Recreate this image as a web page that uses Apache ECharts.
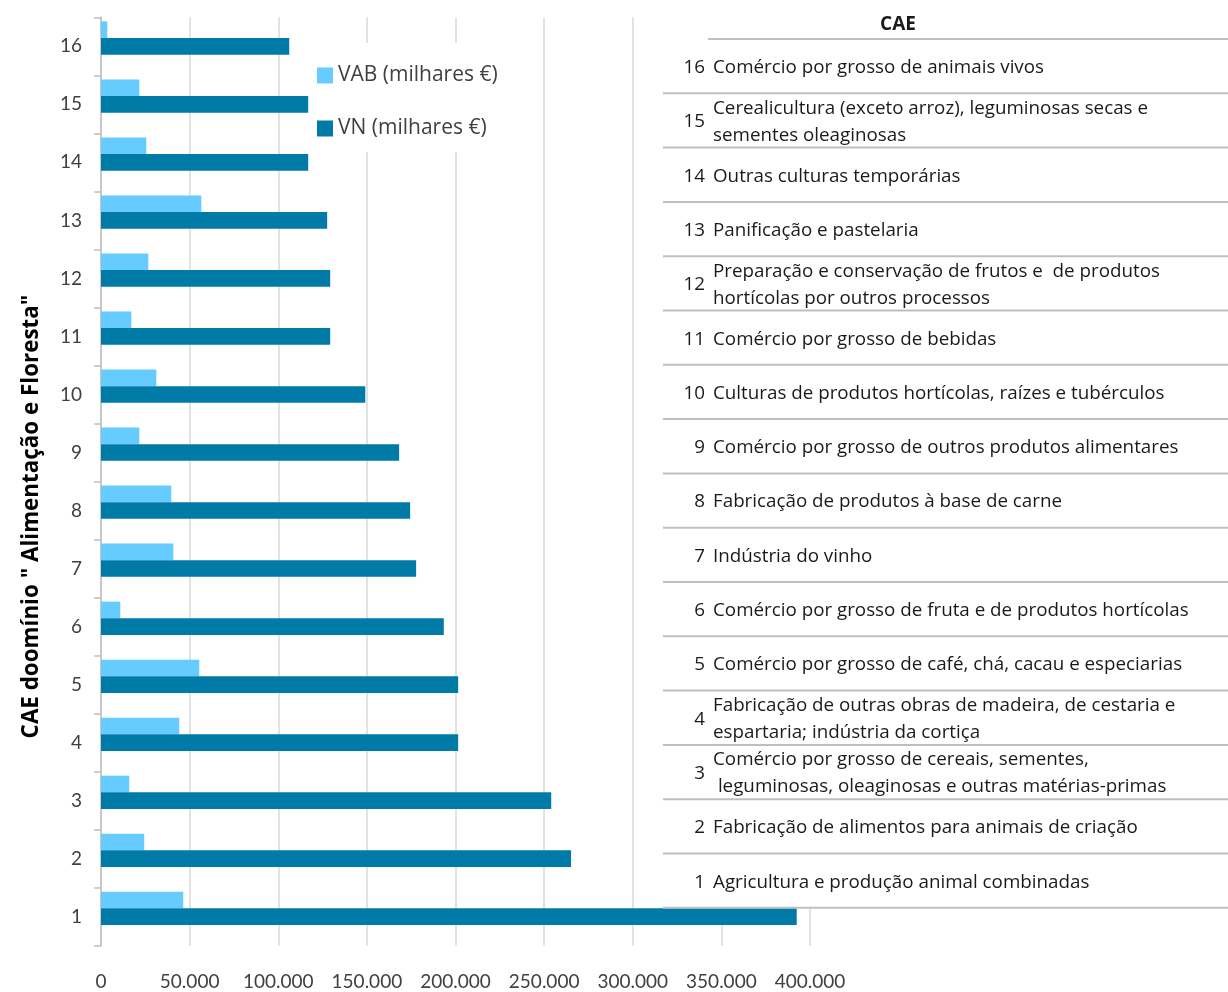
<!DOCTYPE html>
<html>
<head>
<meta charset="utf-8">
<script src="https://cdn.jsdelivr.net/npm/echarts@6/dist/echarts.min.js"></script>
<style>
  html, body { margin: 0; padding: 0; background: #fff; }
  #chart { width: 1228px; height: 992px; }
</style>
</head>
<body>
<div id="chart"></div>
<script>
// ---- data ----
const categories = ['1','2','3','4','5','6','7','8','9','10','11','12','13','14','15','16'];
const vab = [46400, 24400, 15950, 44150, 55450, 10900, 40800, 39650, 21600, 31200, 17100, 26700, 56600, 25550, 21600, 3550];
const vn  = [392500, 265200, 254000, 201500, 201500, 193400, 177800, 174400, 168200, 149100, 129300, 129300, 127600, 116900, 116900, 106200];
const seriesNames = ['VAB (milhares €)', 'VN (milhares €)'];
const xTicks = { min: 0, max: 400000, step: 50000 };
const yTitle = 'CAE doomínio " Alimentação e Floresta"';
const tableTitle = 'CAE';
// descriptions, listed from 16 (top) down to 1
const caeNumbers = ['16','15','14','13','12','11','10','9','8','7','6','5','4','3','2','1'];
const caeNames = [
  'Comércio por grosso de animais vivos',
  'Cerealicultura (exceto arroz), leguminosas secas e\nsementes oleaginosas',
  'Outras culturas temporárias',
  'Panificação e pastelaria',
  'Preparação e conservação de frutos e  de produtos\nhortícolas por outros processos',
  'Comércio por grosso de bebidas',
  'Culturas de produtos hortícolas, raízes e tubérculos',
  'Comércio por grosso de outros produtos alimentares',
  'Fabricação de produtos à base de carne',
  'Indústria do vinho',
  'Comércio por grosso de fruta e de produtos hortícolas',
  'Comércio por grosso de café, chá, cacau e especiarias',
  'Fabricação de outras obras de madeira, de cestaria e\nespartaria; indústria da cortiça',
  'Comércio por grosso de cereais, sementes,\n leguminosas, oleaginosas e outras matérias-primas',
  'Fabricação de alimentos para animais de criação',
  'Agricultura e produção animal combinadas'
];

// ---- styling / layout ----
const FONT = '"Open Sans", Lato, sans-serif';
const TICKFONT = 'Lato, "Open Sans", sans-serif';
const fmt = v => String(v).replace(/\B(?=(\d{3})+(?!\d))/g, '.');

// table geometry
const tblLeft = 663, tblRight = 1228, tblTop = 39, rowH = 54.3;
const graphics = [];
graphics.push({ type: 'rect', z: 100, shape: { x: tblLeft, y: 0, width: tblRight - tblLeft, height: tblTop + rowH * caeNames.length }, style: { fill: '#fff' } });
graphics.push({ type: 'text', z: 101, x: 898, y: 25, style: { text: tableTitle, font: 'bold 19px ' + FONT, fill: '#1a1a1a', align: 'center', verticalAlign: 'middle' } });
graphics.push({ type: 'line', z: 101, shape: { x1: 708, y1: tblTop, x2: tblRight, y2: tblTop }, style: { stroke: '#bfbfbf', lineWidth: 2 } });
caeNames.forEach((name, k) => {
  const cy = tblTop + rowH * (k + 0.5) + 1.5;
  graphics.push({ type: 'text', z: 101, x: 705, y: cy, style: { text: caeNumbers[k], font: '18.8px ' + FONT, fill: '#1a1a1a', align: 'right', verticalAlign: 'middle' } });
  graphics.push({ type: 'text', z: 101, x: 713, y: cy, style: { text: name, font: '18.8px ' + FONT, lineHeight: 27, fill: '#1a1a1a', align: 'left', verticalAlign: 'middle' } });
  const ly = tblTop + rowH * (k + 1);
  graphics.push({ type: 'line', z: 101, shape: { x1: tblLeft, y1: ly, x2: tblRight, y2: ly }, style: { stroke: '#bfbfbf', lineWidth: 2 } });
});

const chart = echarts.init(document.getElementById('chart'), null, { renderer: 'canvas' });
chart.setOption({
  animation: false,
  backgroundColor: '#fff',
  textStyle: { fontFamily: FONT },
  grid: { left: 101, right: 1228 - 810, top: 17.3, bottom: 992 - 945.7, containLabel: false },
  legend: {
    data: seriesNames,
    orient: 'vertical',
    left: 310, top: 43,
    padding: [22, 25, 13, 7],
    itemGap: 32,
    itemWidth: 16, itemHeight: 16,
    backgroundColor: '#fff',
    icon: 'rect',
    textStyle: { fontSize: 21, color: '#404040', fontFamily: FONT },
    z: 10
  },
  xAxis: {
    type: 'value',
    min: xTicks.min, max: xTicks.max, interval: xTicks.step,
    axisLine: { show: false },
    axisTick: { show: false },
    splitLine: { show: true, lineStyle: { color: '#d9d9d9', width: 1.5 } },
    axisLabel: { formatter: fmt, fontSize: 19, color: '#404040', margin: 27, fontFamily: TICKFONT }
  },
  yAxis: {
    type: 'category',
    data: categories,
    name: yTitle,
    nameLocation: 'middle',
    nameRotate: 90,
    nameGap: 58,
    nameTextStyle: { fontSize: 22.4, fontWeight: 'bold', color: '#000', fontFamily: FONT, padding: [0, 70, 0, 0] },
    axisLine: { show: true, lineStyle: { color: '#bfbfbf', width: 1.5 } },
    axisTick: { show: true, length: 7, lineStyle: { color: '#bfbfbf', width: 1.5 } },
    axisLabel: { fontSize: 19, color: '#404040', margin: 19, fontFamily: TICKFONT },
    splitLine: { show: false }
  },
  series: [
    { name: seriesNames[0], type: 'bar', data: vab, itemStyle: { color: '#66CCFF' }, barGap: '0%', barCategoryGap: '14%' },
    { name: seriesNames[1], type: 'bar', data: vn, itemStyle: { color: '#007BA7' }, barGap: '0%', barCategoryGap: '14%' },
    { name: '', type: 'bar', data: [], barGap: '0%', barCategoryGap: '14%' }
  ],
  graphic: { elements: graphics }
});
</script>
</body>
</html>
